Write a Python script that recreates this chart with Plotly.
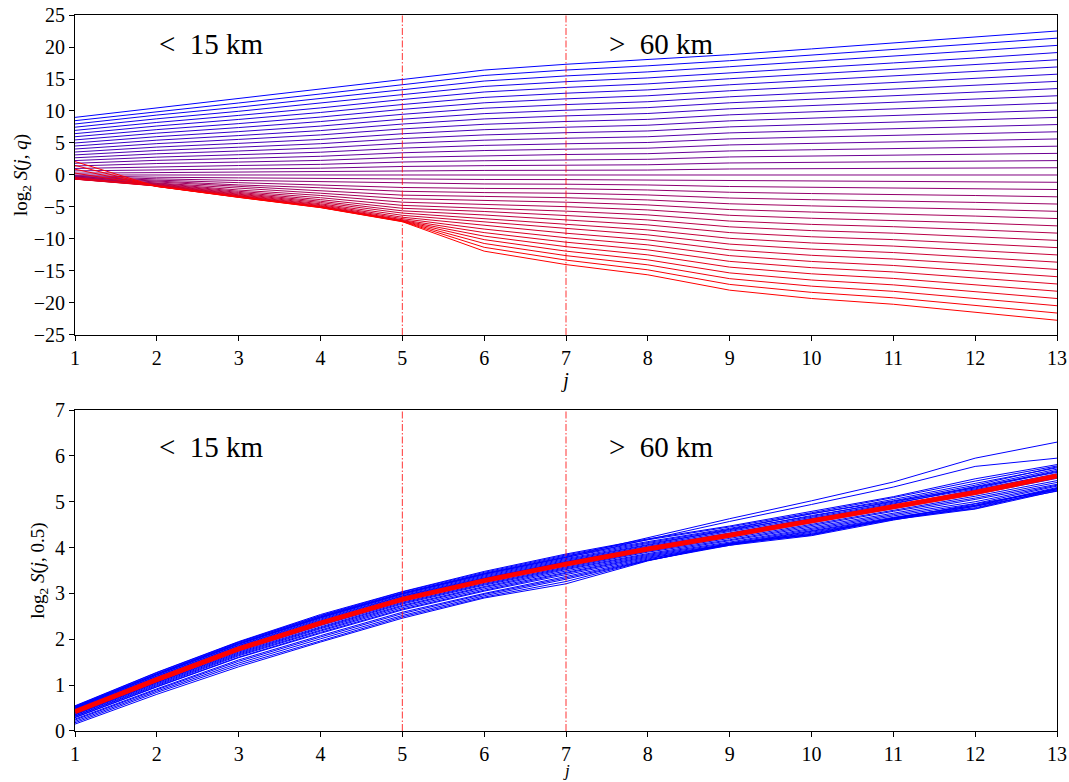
import plotly.graph_objects as go

# ---------------- data ----------------
j_vals = [1, 2, 3, 4, 5, 6, 7, 8, 9, 10, 11, 12, 13]

# Top panel: log2 S(j,q) for 41 q values (from largest q, blue, to smallest q, red)
# one list per scale j, 41 values each (line order top -> bottom)
top_j01 = [9.0, 8.49, 7.97, 7.47, 6.97, 6.46, 5.98, 5.48, 5.0, 4.53, 4.06, 3.59, 3.14, 2.69, 2.25, 1.83, 1.41, 1.02, 0.64, 0.29, 0.0,
           -0.1, -0.2, -0.28, -0.35, -0.4, -0.45, -0.5, -0.53, -0.56, -0.58, -0.6, -0.62, -0.63, -0.64, -0.65, -0.4, 0.3, 0.9, 1.5, 2.1]
top_j02 = [10.5, 9.92, 9.36, 8.78, 8.21, 7.65, 7.09, 6.54, 5.99, 5.44, 4.9, 4.36, 3.83, 3.31, 2.79, 2.29, 1.79, 1.3, 0.83, 0.39, 0.0,
           -0.35, -0.6, -0.8, -0.97, -1.1, -1.22, -1.32, -1.4, -1.47, -1.53, -1.58, -1.62, -1.66, -1.69, -1.72, -1.74, -1.76, -1.78, -1.79, -1.8]
top_j03 = [11.9, 11.25, 10.6, 9.95, 9.31, 8.68, 8.03, 7.41, 6.78, 6.16, 5.56, 4.94, 4.34, 3.75, 3.17, 2.59, 2.02, 1.48, 0.94, 0.44, 0.0,
           -0.45, -0.85, -1.2, -1.55, -1.85, -2.1, -2.35, -2.55, -2.72, -2.87, -3.0, -3.1, -3.2, -3.27, -3.33, -3.38, -3.42, -3.45, -3.48, -3.5]
top_j04 = [13.4, 12.66, 11.94, 11.2, 10.48, 9.77, 9.05, 8.35, 7.64, 6.94, 6.26, 5.56, 4.89, 4.22, 3.56, 2.92, 2.28, 1.66, 1.06, 0.5, 0.0,
           -0.55, -1.05, -1.55, -2.0, -2.45, -2.85, -3.2, -3.55, -3.85, -4.1, -4.3, -4.5, -4.65, -4.78, -4.88, -4.95, -5.0, -5.04, -5.07, -5.1]
top_j05 = [14.9, 14.13, 13.34, 12.56, 11.79, 11.01, 10.25, 9.48, 8.72, 7.96, 7.2, 6.44, 5.69, 4.95, 4.2, 3.47, 2.76, 2.03, 1.33, 0.64, 0.0,
           -0.65, -1.3, -1.95, -2.55, -3.15, -3.7, -4.25, -4.75, -5.2, -5.6, -5.95, -6.3, -6.6, -6.82, -7.0, -7.1, -7.17, -7.22, -7.26, -7.3]
top_j06 = [16.4, 15.55, 14.68, 13.83, 12.97, 12.12, 11.28, 10.43, 9.59, 8.76, 7.92, 7.08, 6.26, 5.44, 4.62, 3.82, 3.03, 2.23, 1.46, 0.71, 0.0,
           -0.7, -1.4, -2.1, -2.75, -3.35, -3.95, -4.55, -5.15, -5.7, -6.25, -6.8, -7.35, -7.9, -8.45, -9.0, -9.55, -10.1, -10.7, -11.3, -11.9]
top_j07 = [17.3, 16.4, 15.48, 14.58, 13.68, 12.78, 11.9, 11.0, 10.12, 9.24, 8.36, 7.47, 6.61, 5.74, 4.88, 4.03, 3.2, 2.35, 1.54, 0.74, 0.0,
           -0.72, -1.44, -2.15, -2.85, -3.55, -4.25, -4.95, -5.65, -6.33, -7.02, -7.71, -8.4, -9.1, -9.8, -10.5, -11.2, -11.9, -12.6, -13.3, -14.0]
top_j08 = [18.0, 17.06, 16.11, 15.17, 14.24, 13.3, 12.38, 11.45, 10.53, 9.61, 8.69, 7.78, 6.88, 5.98, 5.08, 4.19, 3.33, 2.45, 1.6, 0.77, 0.0,
           -0.78, -1.56, -2.34, -3.12, -3.9, -4.68, -5.46, -6.24, -7.02, -7.8, -8.58, -9.36, -10.14, -10.92, -11.7, -12.48, -13.26, -14.04, -14.82, -15.6]
top_j09 = [18.8, 17.86, 16.92, 15.98, 15.04, 14.1, 13.16, 12.22, 11.28, 10.34, 9.4, 8.46, 7.52, 6.58, 5.64, 4.7, 3.76, 2.82, 1.88, 0.94, 0.0,
           -0.9, -1.8, -2.7, -3.6, -4.5, -5.4, -6.3, -7.2, -8.1, -9.0, -9.9, -10.8, -11.7, -12.6, -13.5, -14.4, -15.3, -16.2, -17.1, -18.0]
top_j10 = [19.7, 18.72, 17.73, 16.75, 15.76, 14.78, 13.79, 12.81, 11.82, 10.84, 9.85, 8.87, 7.88, 6.9, 5.91, 4.93, 3.94, 2.96, 1.97, 0.99, 0.0,
           -0.97, -1.93, -2.9, -3.86, -4.83, -5.79, -6.76, -7.72, -8.69, -9.65, -10.62, -11.58, -12.55, -13.51, -14.48, -15.44, -16.41, -17.37, -18.34, -19.3]
top_j11 = [20.6, 19.57, 18.54, 17.51, 16.48, 15.45, 14.42, 13.39, 12.36, 11.33, 10.3, 9.27, 8.24, 7.21, 6.18, 5.15, 4.12, 3.09, 2.06, 1.03, 0.0,
           -1.01, -2.02, -3.03, -4.04, -5.05, -6.06, -7.07, -8.08, -9.09, -10.1, -11.11, -12.12, -13.13, -14.14, -15.15, -16.16, -17.17, -18.18, -19.19, -20.2]
top_j12 = [21.5, 20.43, 19.35, 18.28, 17.2, 16.13, 15.05, 13.98, 12.9, 11.83, 10.75, 9.68, 8.6, 7.53, 6.45, 5.38, 4.3, 3.23, 2.15, 1.08, 0.0,
           -1.07, -2.14, -3.21, -4.28, -5.35, -6.42, -7.49, -8.56, -9.63, -10.7, -11.77, -12.84, -13.91, -14.98, -16.05, -17.12, -18.19, -19.26, -20.33, -21.4]
top_j13 = [22.5, 21.38, 20.25, 19.13, 18.0, 16.88, 15.75, 14.63, 13.5, 12.38, 11.25, 10.13, 9.0, 7.88, 6.75, 5.63, 4.5, 3.38, 2.25, 1.13, 0.0,
           -1.14, -2.27, -3.41, -4.54, -5.68, -6.81, -7.95, -9.08, -10.22, -11.35, -12.49, -13.62, -14.76, -15.89, -17.03, -18.16, -19.3, -20.43, -21.57, -22.7]

# Bottom panel: log2 S(j,0.5) for individual samples (blue) and their mean (red)
mean_05 = [0.42, 1.12, 1.79, 2.35, 2.87, 3.28, 3.64, 3.97, 4.27, 4.59, 4.89, 5.2, 5.56]
samples_05 = [
    [0.55, 1.28, 1.95, 2.54, 3.04, 3.48, 3.86, 4.19, 4.47, 4.79, 5.11, 5.5, 5.81],
    [0.54, 1.27, 1.94, 2.52, 3.03, 3.46, 3.84, 4.17, 4.45, 4.76, 5.09, 5.45, 5.78],
    [0.53, 1.25, 1.93, 2.51, 3.01, 3.44, 3.82, 4.13, 4.42, 4.73, 5.05, 5.4, 5.74],
    [0.52, 1.24, 1.91, 2.49, 3.0, 3.42, 3.79, 4.11, 4.4, 4.74, 5.02, 5.36, 5.76],
    [0.51, 1.23, 1.9, 2.47, 2.99, 3.4, 3.76, 4.09, 4.37, 4.7, 4.99, 5.33, 5.71],
    [0.50, 1.22, 1.89, 2.46, 2.97, 3.38, 3.74, 4.07, 4.39, 4.68, 5.01, 5.3, 5.68],
    [0.49, 1.2, 1.87, 2.44, 2.95, 3.36, 3.72, 4.05, 4.35, 4.66, 4.97, 5.28, 5.66],
    [0.48, 1.19, 1.86, 2.42, 2.94, 3.34, 3.7, 4.03, 4.32, 4.64, 4.95, 5.32, 5.64],
    [0.47, 1.17, 1.84, 2.4, 2.92, 3.33, 3.69, 4.01, 4.3, 4.63, 4.91, 5.26, 5.61],
    [0.46, 1.16, 1.83, 2.39, 2.91, 3.32, 3.67, 3.99, 4.29, 4.61, 4.92, 5.24, 5.59],
    [0.52, 1.24, 1.91, 2.49, 3.0, 3.43, 3.8, 4.22, 4.63, 5.02, 5.43, 5.95, 6.3],
    [0.51, 1.23, 1.9, 2.48, 2.99, 3.42, 3.78, 4.17, 4.57, 4.94, 5.32, 5.77, 5.95],
    [0.40, 1.1, 1.76, 2.32, 2.84, 3.25, 3.61, 3.94, 4.23, 4.54, 4.84, 5.16, 5.51],
    [0.39, 1.08, 1.74, 2.3, 2.81, 3.22, 3.58, 3.92, 4.2, 4.51, 4.81, 5.12, 5.46],
    [0.37, 1.06, 1.72, 2.27, 2.79, 3.2, 3.56, 3.9, 4.17, 4.48, 4.79, 5.08, 5.42],
    [0.36, 1.05, 1.7, 2.25, 2.77, 3.18, 3.54, 3.87, 4.15, 4.45, 4.75, 5.05, 5.38],
    [0.35, 1.03, 1.68, 2.23, 2.74, 3.15, 3.52, 3.85, 4.12, 4.42, 4.72, 5.0, 5.36],
    [0.33, 1.01, 1.66, 2.2, 2.72, 3.13, 3.49, 3.83, 4.1, 4.39, 4.69, 4.96, 5.34],
    [0.32, 0.99, 1.64, 2.18, 2.69, 3.1, 3.46, 3.81, 4.08, 4.37, 4.66, 4.92, 5.31],
    [0.30, 0.97, 1.61, 2.15, 2.66, 3.07, 3.44, 3.79, 4.07, 4.35, 4.64, 4.9, 5.29],
    [0.29, 0.96, 1.6, 2.13, 2.64, 3.05, 3.41, 3.77, 4.05, 4.33, 4.62, 4.87, 5.26],
    [0.26, 0.92, 1.55, 2.08, 2.59, 3.0, 3.37, 3.75, 4.09, 4.31, 4.64, 4.85, 5.28],
    [0.24, 0.90, 1.52, 2.05, 2.56, 2.98, 3.34, 3.73, 4.07, 4.29, 4.61, 4.84, 5.24],
    [0.21, 0.87, 1.48, 2.01, 2.52, 2.95, 3.31, 3.72, 4.05, 4.26, 4.6, 4.9, 5.23],
    [0.18, 0.84, 1.44, 1.97, 2.49, 2.92, 3.26, 3.72, 4.07, 4.29, 4.63, 4.95, 5.26],
    [0.15, 0.80, 1.4, 1.94, 2.46, 2.9, 3.21, 3.71, 4.09, 4.27, 4.65, 4.92, 5.29],
]

x_ticks = [1, 2, 3, 4, 5, 6, 7, 8, 9, 10, 11, 12, 13]
top_y_ticks = [-25, -20, -15, -10, -5, 0, 5, 10, 15, 20, 25]
bot_y_ticks = [0, 1, 2, 3, 4, 5, 6, 7]
marker_scales = [5, 7]
label_small = "&lt;\u200215 km"
label_large = "&gt;\u200260 km"

# ---------------- figure ----------------
FONT = "Liberation Serif"
top_cols = [top_j01, top_j02, top_j03, top_j04, top_j05, top_j06, top_j07,
            top_j08, top_j09, top_j10, top_j11, top_j12, top_j13]
n_lines = len(top_j01)

fig = go.Figure()

for k in range(n_lines):
    t = k / (n_lines - 1)
    col = "rgb(%d,0,%d)" % (round(255 * t), round(255 * (1 - t)))
    fig.add_trace(go.Scatter(
        x=j_vals, y=[c[k] for c in top_cols], mode="lines",
        line=dict(color=col, width=1), xaxis="x", yaxis="y",
        showlegend=False, hoverinfo="skip"))

for s in samples_05:
    fig.add_trace(go.Scatter(
        x=j_vals, y=s, mode="lines", line=dict(color="#0000ff", width=1),
        xaxis="x2", yaxis="y2", showlegend=False, hoverinfo="skip"))
fig.add_trace(go.Scatter(
    x=j_vals, y=mean_05, mode="lines", line=dict(color="#ff0000", width=5),
    xaxis="x2", yaxis="y2", showlegend=False, hoverinfo="skip"))

axis_common = dict(
    showline=True, mirror=True, linecolor="black", linewidth=1,
    ticks="outside", ticklen=5, tickwidth=1, tickcolor="black",
    showgrid=False, zeroline=False, automargin=False,
    tickfont=dict(family=FONT, size=20, color="black"),
)
title_font_x = dict(family=FONT, size=20, color="black")
title_font_y = dict(family=FONT, size=19, color="black")

fig.update_layout(
    width=1069, height=782,
    margin=dict(l=75, r=12, t=15, b=51, autoexpand=False),
    paper_bgcolor="white", plot_bgcolor="white",
    xaxis=dict(domain=[0, 1], anchor="y", range=[1, 13], tickvals=x_ticks,
               title=dict(text="<i>j</i>", font=title_font_x, standoff=0),
               **axis_common),
    yaxis=dict(domain=[0.5531, 1], anchor="x", range=[-25, 25], tickvals=top_y_ticks,
               title=dict(text="log<sub>2</sub> <i>S</i>(<i>j</i>, <i>q</i>)",
                          font=title_font_y, standoff=1),
               **axis_common),
    xaxis2=dict(domain=[0, 1], anchor="y2", range=[1, 13], tickvals=x_ticks,
                **axis_common),
    yaxis2=dict(domain=[0, 0.4483], anchor="x2", range=[0, 7], tickvals=bot_y_ticks,
                title=dict(text="log<sub>2</sub> <i>S</i>(<i>j</i>, 0.5)",
                           font=title_font_y, standoff=5),
                **axis_common),
)

shapes = []
for yr in ["y", "y2"]:
    xr = "x" if yr == "y" else "x2"
    for xv in marker_scales:
        shapes.append(dict(type="line", xref=xr, yref=yr + " domain", x0=xv, x1=xv, y0=0, y1=1,
                           line=dict(color="rgba(255,0,0,0.8)", width=1, dash="7px,2px,1.5px,2px"),
                           layer="above"))
fig.update_layout(shapes=shapes)

annots = []
for xr, yr, yv in [("x", "y", 20.4), ("x2", "y2", 6.19)]:
    annots.append(dict(x=2.04, y=yv, xref=xr, yref=yr, text=label_small, showarrow=False,
                       xanchor="left", yanchor="middle", xshift=-3,
                       font=dict(family=FONT, size=29, color="black")))
    annots.append(dict(x=7.54, y=yv, xref=xr, yref=yr, text=label_large, showarrow=False,
                       xanchor="left", yanchor="middle", xshift=-3,
                       font=dict(family=FONT, size=29, color="black")))
# bottom x-axis title placed just below the tick labels, at the foot of the figure
annots.append(dict(x=0.5, y=-0.0712, xref="paper", yref="paper", text="<i>j</i>",
                   showarrow=False, xanchor="center", yanchor="bottom",
                   font=dict(family=FONT, size=17, color="black")))
fig.update_layout(annotations=annots)

fig.write_html("out.html")
